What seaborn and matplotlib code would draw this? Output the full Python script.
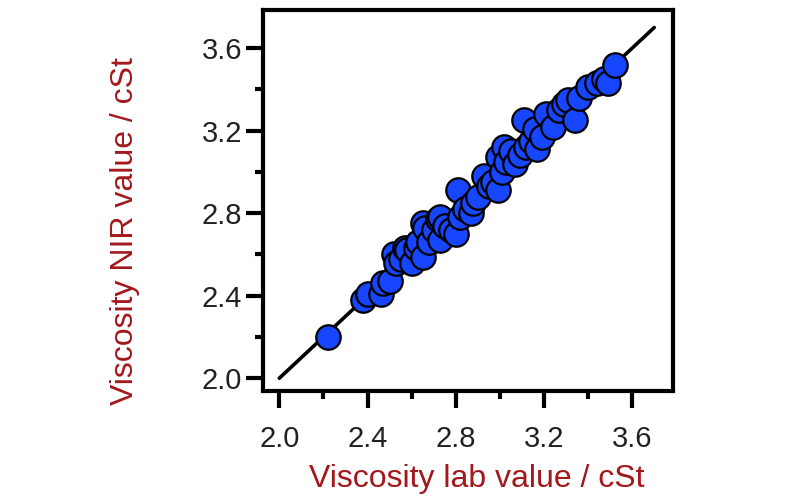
import numpy as np
import pandas as pd
import seaborn as sns
import matplotlib.pyplot as plt
from matplotlib.ticker import MultipleLocator

# lab value (x) vs NIR predicted value (y)
lab_value = [2.22, 2.38, 2.40, 2.46, 2.47, 2.50, 2.52, 2.53, 2.55, 2.57, 2.58, 2.60,
             2.62, 2.63, 2.65, 2.65, 2.66, 2.68, 2.70, 2.72, 2.73, 2.73, 2.75, 2.78,
             2.80, 2.81, 2.82, 2.84, 2.87, 2.88, 2.90, 2.93, 2.95, 2.97, 2.99, 2.99,
             3.01, 3.02, 3.03, 3.05, 3.07, 3.09, 3.11, 3.12, 3.14, 3.16, 3.17, 3.19,
             3.21, 3.24, 3.27, 3.29, 3.31, 3.34, 3.36, 3.40, 3.44, 3.47, 3.49, 3.52]
nir_value = [2.20, 2.38, 2.41, 2.41, 2.46, 2.47, 2.60, 2.56, 2.58, 2.63, 2.62, 2.56,
             2.63, 2.66, 2.59, 2.75, 2.73, 2.66, 2.72, 2.77, 2.67, 2.78, 2.74, 2.72,
             2.70, 2.91, 2.78, 2.82, 2.80, 2.85, 2.88, 2.98, 2.93, 2.95, 2.91, 3.07,
             3.00, 3.12, 3.05, 3.10, 3.04, 3.08, 3.25, 3.12, 3.15, 3.21, 3.11, 3.17,
             3.28, 3.22, 3.30, 3.33, 3.35, 3.25, 3.36, 3.41, 3.43, 3.45, 3.43, 3.52]

df = pd.DataFrame({"lab": lab_value, "nir": nir_value})

sns.set_theme(style="white")
plt.rcParams['font.family'] = ['Liberation Sans', 'DejaVu Sans']

fig = plt.figure(figsize=(8, 4.99), dpi=100)
ax = fig.add_axes([0.329, 0.216, 0.5125, 0.764])

ax.plot([2.0, 3.7], [2.0, 3.7], color="black", lw=2.6, zorder=1)
sns.scatterplot(data=df, x="lab", y="nir", ax=ax, s=310, color="#1646ff",
                edgecolor="black", linewidth=1.6, zorder=2)

ax.set_xlim(1.927, 3.786)
ax.set_ylim(1.937, 3.785)
ax.xaxis.set_major_locator(MultipleLocator(0.4))
ax.yaxis.set_major_locator(MultipleLocator(0.4))
ax.xaxis.set_minor_locator(MultipleLocator(0.2))
ax.yaxis.set_minor_locator(MultipleLocator(0.2))
ax.xaxis.set_major_formatter(lambda v, p: f"{v:.1f}")
ax.yaxis.set_major_formatter(lambda v, p: f"{v:.1f}")

for s in ax.spines.values():
    s.set_linewidth(3)
    s.set_color("black")
ax.tick_params(which="major", direction="out", length=12, width=3,
               labelsize=21, color="black", labelcolor="#222222")
ax.tick_params(which="minor", direction="out", length=6, width=3, color="black")
ax.tick_params(axis="x", which="major", pad=12)
ax.tick_params(axis="y", which="major", pad=3)
ax.tick_params(bottom=True, left=True, which="both")

red = "#a3181d"
ax.set_xlabel("Viscosity lab value / cSt", fontsize=23, color=red)
ax.set_ylabel("Viscosity NIR value / cSt", fontsize=23, color=red)
ax.xaxis.set_label_coords(0.52, -0.19)
ax.yaxis.set_label_coords(-0.30, 0.42)

fig.savefig("out.png", dpi=100)
